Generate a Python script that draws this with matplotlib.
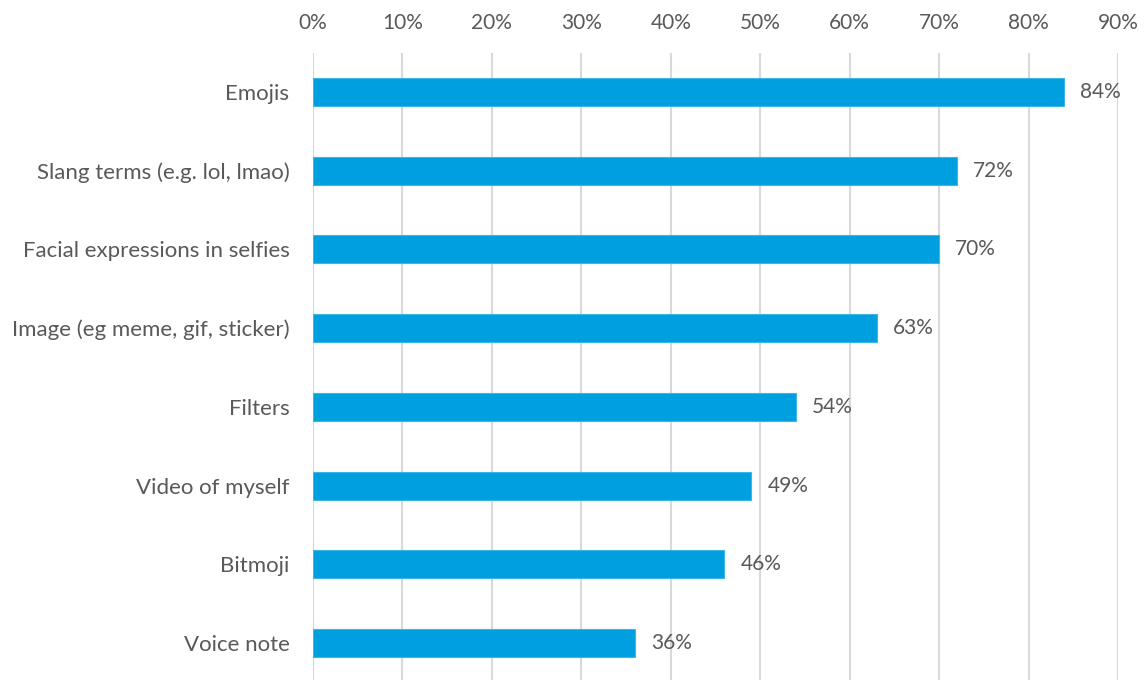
import matplotlib
matplotlib.use("Agg")
import matplotlib.pyplot as plt

categories = ["Emojis", "Slang terms (e.g. lol, lmao)", "Facial expressions in selfies",
              "Image (eg meme, gif, sticker)", "Filters", "Video of myself", "Bitmoji", "Voice note"]
values = [84, 72, 70, 63, 54, 49, 46, 36]
ticks = list(range(0, 100, 10))

W, H = 1147, 680
fig = plt.figure(figsize=(W / 100, H / 100), dpi=100)
left, right = 313 / W, 1118 / W
top = 1 - 52.6 / H
bottom = 1 - 682.4 / H
ax = fig.add_axes([left, bottom, right - left, top - bottom])

txt = "#595959"
font = "Lato"
y = list(range(len(categories)))
ax.barh(y, values, height=0.356, color="#009FDF", edgecolor="#3DB5E8", linewidth=0.8, zorder=3)
for yi, v in zip(y, values):
    ax.text(v + 1.8, yi, f"{v}%", va="center", ha="left", fontsize=15, color=txt, family=font)

ax.set_xlim(0, 90)
ax.set_ylim(len(categories) - 0.5, -0.5)
ax.set_xticks(ticks)
ax.set_xticklabels([f"{t}%" for t in ticks], fontsize=15, color=txt, family=font)
ax.xaxis.tick_top()
ax.tick_params(axis="x", length=0, pad=14)
ax.set_yticks(y)
ax.set_yticklabels(categories, fontsize=16, color=txt, family=font)
ax.tick_params(axis="y", length=0, pad=17)
ax.grid(axis="x", color="#D9D9D9", linewidth=1.5, zorder=0)
for s in ax.spines.values():
    s.set_visible(False)
ax.axvline(0, color="#D9D9D9", linewidth=1.5, zorder=1)

fig.savefig("out.png", dpi=100)
